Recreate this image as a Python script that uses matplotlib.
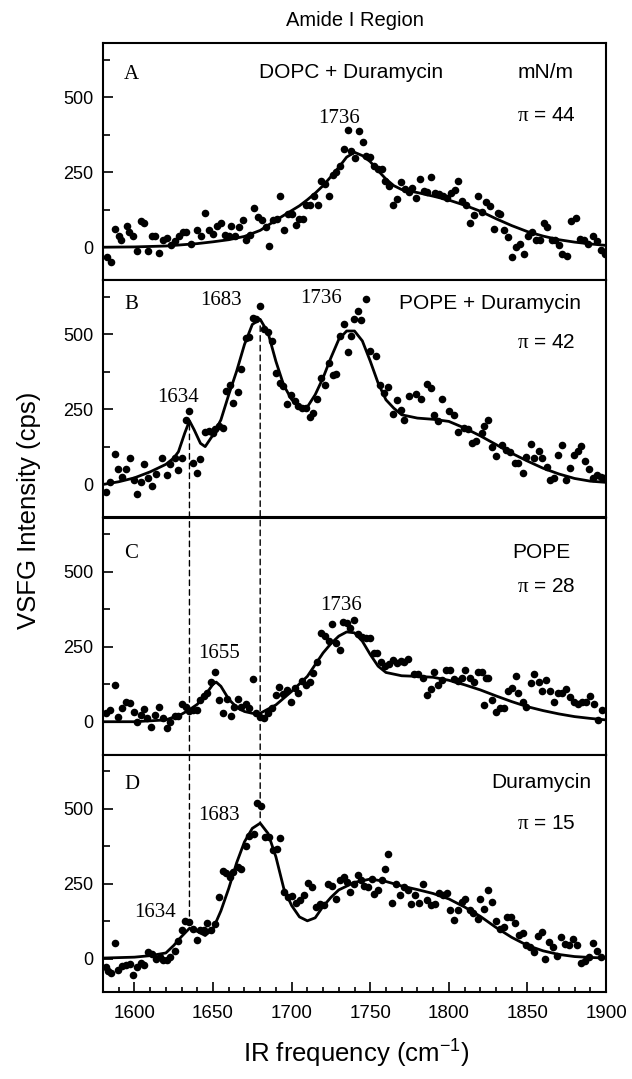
import matplotlib
matplotlib.use("Agg")
import matplotlib.pyplot as plt
from matplotlib.patches import ConnectionPatch
from matplotlib.ticker import MultipleLocator

plt.rcParams["font.family"] = ["Liberation Sans", "DejaVu Sans"]
plt.rcParams["mathtext.fontset"] = "custom"
plt.rcParams["mathtext.rm"] = "Liberation Serif"
plt.rcParams["mathtext.default"] = "regular"

# ---- panel A: DOPC + Duramycin, pi = 44 ----
dopc_dura_x = [1582.6, 1585.0, 1587.7, 1590.0, 1591.5, 1595.3, 1596.6, 1599.0, 1601.7, 1604.0,
               1606.0, 1608.9, 1611.4, 1613.0, 1615.8, 1618.3, 1620.4, 1623.4, 1626.0, 1628.6,
               1631.0, 1632.9, 1636.0, 1640.0, 1642.6, 1645.0, 1647.7, 1650.0, 1652.7, 1654.8,
               1657.4, 1660.0, 1661.7, 1663.8, 1666.3, 1668.9, 1671.2, 1673.7, 1675.8, 1678.3,
               1680.9, 1683.5, 1685.5, 1688.0, 1691.0, 1692.6, 1694.9, 1697.5, 1700.0, 1702.6,
               1705.0, 1707.0, 1709.0, 1711.5, 1714.0, 1716.6, 1718.4, 1721.2, 1723.8, 1726.3,
               1728.0, 1730.7, 1733.2, 1735.8, 1737.6, 1740.0, 1742.9, 1745.5, 1747.3, 1749.8,
               1752.4, 1755.0, 1757.5, 1759.5, 1762.0, 1764.8, 1767.2, 1769.8, 1772.3, 1774.9,
               1776.6, 1779.2, 1781.7, 1784.3, 1786.4, 1788.9, 1791.5, 1794.0, 1796.6, 1799.1,
               1801.7, 1804.2, 1806.0, 1808.6, 1811.1, 1813.7, 1816.2, 1818.8, 1821.3, 1823.9,
               1825.9, 1828.5, 1831.0, 1832.8, 1835.4, 1837.9, 1840.5, 1843.0, 1845.6, 1847.7,
               1850.2, 1852.8, 1855.3, 1857.9, 1860.4, 1862.2, 1865.5, 1867.3, 1869.9, 1871.9,
               1875.0, 1877.5, 1880.9, 1883.4, 1886.0, 1888.5, 1891.6, 1894.1, 1896.7, 1899.2]
dopc_dura_y = [-33, -50, 61, 39, 24, 72, 50, 39, -11, 87,
               80, -11, 39, 39, -20, 24, 31, 6, 20, 39,
               50, 50, 11, 58, 36, 114, 56, 44, 70, 81,
               42, 39, 70, 39, 67, 92, 24, 41, 132, 100,
               89, 67, 3, 89, 94, 169, 58, 111, 109, 74,
               94, 94, 142, 142, 172, 139, 220, 211, 172, 242,
               250, 272, 326, 391, 320, 298, 387, 350, 303, 302,
               270, 261, 261, 222, 203, 139, 161, 217, 194, 183,
               198, 163, 228, 186, 183, 233, 180, 178, 172, 164,
               180, 189, 222, 153, 142, 80, 106, 172, 117, 150,
               136, 61, 113, 111, 58, 33, -33, 2, 11, -24,
               39, 52, 24, 24, 80, 67, 24, 24, 9, -22,
               -28, 86, 97, 28, 24, 11, 38, 20, -9, -22]
dopc_dura_fit_x = [1580, 1600, 1620, 1640, 1650, 1660, 1670, 1680, 1690, 1700, 1705, 1710, 1715,
                   1720, 1725, 1730, 1735, 1740, 1745, 1750, 1755, 1760, 1765, 1770, 1780, 1790,
                   1800, 1810, 1820, 1830, 1840, 1850, 1860, 1870, 1880, 1890, 1900]
dopc_dura_fit_y = [0, 1, 4, 12, 18, 25, 36, 56, 90, 122, 138, 158, 180,
                   205, 235, 266, 300, 316, 305, 285, 255, 227, 205, 192, 182, 170,
                   157, 140, 120, 95, 72, 52, 37, 25, 17, 11, 6]

# ---- panel B: POPE + Duramycin, pi = 42 ----
pope_dura_x = [1581.8, 1584.3, 1587.7, 1589.7, 1592.3, 1594.8, 1597.1, 1599.7, 1601.7, 1604.3,
               1606.3, 1608.9, 1611.4, 1614.0, 1617.8, 1620.4, 1622.9, 1625.5, 1628.0, 1630.1,
               1632.9, 1635.0, 1637.0, 1639.5, 1641.8, 1644.6, 1647.2, 1649.7, 1651.5, 1654.1,
               1656.1, 1658.4, 1661.0, 1663.0, 1665.6, 1668.1, 1670.7, 1673.2, 1675.3, 1677.6,
               1680.1, 1682.2, 1684.7, 1687.3, 1689.8, 1692.4, 1694.4, 1697.0, 1699.5, 1702.1,
               1703.9, 1706.4, 1709.0, 1711.5, 1713.6, 1716.1, 1718.7, 1721.2, 1723.8, 1726.3,
               1728.1, 1730.7, 1733.2, 1735.8, 1737.6, 1739.6, 1742.2, 1744.2, 1747.3, 1749.8,
               1753.7, 1756.2, 1758.8, 1761.3, 1764.6, 1767.2, 1769.8, 1771.5, 1774.9, 1779.2,
               1782.5, 1786.4, 1788.9, 1790.7, 1793.3, 1795.8, 1800.4, 1803.5, 1806.0, 1809.9,
               1812.4, 1815.0, 1817.5, 1820.8, 1822.6, 1825.2, 1827.7, 1830.3, 1833.6, 1836.2,
               1838.7, 1841.8, 1844.3, 1846.9, 1849.4, 1852.0, 1854.5, 1857.1, 1859.6, 1862.2,
               1864.3, 1866.8, 1869.4, 1871.9, 1874.5, 1877.0, 1879.6, 1882.1, 1883.9, 1886.5,
               1889.0, 1891.6, 1894.1, 1896.7, 1898.7]
pope_dura_y = [-25, 9, 100, 51, 26, 51, 89, 15, -33, 9,
               67, 22, -4, 35, 87, 33, 67, 89, 48, 87,
               215, 243, 70, 37, 85, 174, 179, 171, 184, 196,
               188, 310, 330, 271, 308, 386, 489, 491, 554, 550,
               595, 517, 509, 478, 372, 338, 327, 268, 297, 277,
               260, 254, 254, 223, 238, 286, 353, 330, 405, 364,
               368, 494, 533, 442, 494, 550, 578, 547, 617, 446,
               427, 330, 305, 324, 234, 282, 249, 215, 294, 301,
               286, 335, 321, 230, 212, 285, 243, 232, 176, 188,
               185, 137, 145, 171, 196, 215, 124, 96, 132, 115,
               109, 70, 70, 37, 93, 134, 87, 112, 89, 59,
               15, 22, 98, 132, 15, 56, 98, 112, 129, 78,
               51, 22, 31, 26, 20]
pope_dura_fit_x = [1580, 1590, 1600, 1610, 1620, 1625, 1628, 1632, 1635, 1638, 1642, 1645, 1650,
                   1655, 1660, 1665, 1670, 1675, 1680, 1685, 1690, 1695, 1700, 1705, 1710, 1715,
                   1720, 1725, 1730, 1735, 1740, 1745, 1750, 1755, 1760, 1765, 1770, 1780, 1790,
                   1800, 1810, 1820, 1830, 1840, 1850, 1860, 1870, 1880, 1890, 1900]
pope_dura_fit_y = [0, 9, 22, 42, 67, 88, 109, 171, 212, 182, 137, 126, 165,
                   215, 299, 377, 466, 533, 550, 505, 410, 330, 283, 256, 258, 299,
                   355, 422, 483, 511, 511, 478, 411, 338, 282, 254, 232, 221, 217,
                   210, 188, 162, 133, 104, 78, 54, 35, 20, 11, 7]

# ---- panel C: POPE, pi = 28 ----
pope_x = [1581.8, 1584.3, 1587.7, 1589.7, 1592.3, 1594.8, 1597.1, 1599.7, 1601.7, 1604.3,
          1606.3, 1608.1, 1610.6, 1613.2, 1615.8, 1618.3, 1620.4, 1622.9, 1625.5, 1628.0,
          1630.1, 1632.9, 1635.0, 1637.0, 1639.5, 1641.8, 1644.4, 1646.4, 1649.0, 1651.5,
          1654.1, 1656.6, 1659.2, 1661.2, 1663.5, 1665.6, 1668.1, 1670.7, 1673.2, 1675.3,
          1677.6, 1679.6, 1682.2, 1684.7, 1687.3, 1689.8, 1691.9, 1694.4, 1697.0, 1699.5,
          1702.1, 1703.9, 1706.4, 1709.0, 1711.5, 1713.6, 1716.1, 1718.4, 1721.0, 1723.5,
          1725.8, 1728.1, 1730.7, 1732.5, 1735.0, 1737.1, 1739.6, 1742.2, 1744.7, 1747.3,
          1749.8, 1752.4, 1754.4, 1757.0, 1759.5, 1762.1, 1764.6, 1767.2, 1769.8, 1771.5,
          1774.1, 1777.9, 1780.5, 1783.5, 1786.1, 1788.7, 1790.7, 1793.3, 1795.8, 1798.4,
          1801.0, 1803.5, 1806.0, 1808.6, 1810.6, 1813.7, 1816.2, 1818.8, 1820.8, 1822.6,
          1823.4, 1825.2, 1827.7, 1829.8, 1832.3, 1835.4, 1837.9, 1840.5, 1842.5, 1844.3,
          1846.9, 1849.4, 1852.0, 1854.5, 1857.1, 1859.6, 1861.7, 1864.3, 1866.8, 1869.4,
          1871.9, 1874.5, 1877.0, 1879.6, 1882.1, 1884.7, 1887.2, 1889.8, 1892.4, 1894.9,
          1897.5]
pope_y = [28, 39, 123, 17, 45, 67, 62, 34, 0, 22,
          41, 11, -19, 22, 50, 11, -22, 0, 19, 19,
          59, 48, 37, 39, 39, 73, 84, 95, 131, 164,
          73, 30, 75, 19, 50, 75, 50, 59, 45, 142,
          28, 17, 11, 28, 45, 89, 117, 93, 104, 67,
          112, 97, 134, 123, 131, 162, 198, 296, 287, 268,
          324, 261, 240, 332, 330, 313, 339, 291, 283, 280,
          280, 229, 229, 198, 185, 192, 207, 196, 201, 198,
          209, 160, 160, 145, 89, 109, 164, 123, 138, 173,
          173, 142, 134, 145, 171, 145, 131, 164, 164, 56,
          145, 145, 73, 34, 45, 45, 101, 112, 151, 95,
          67, 50, 129, 160, 131, 101, 140, 101, 67, 95,
          95, 109, 82, 67, 59, 67, 67, 86, 59, 6,
          39]
pope_fit_x = [1580, 1600, 1620, 1630, 1635, 1640, 1645, 1650, 1652, 1655, 1660, 1665, 1670,
              1675, 1680, 1690, 1700, 1710, 1720, 1725, 1730, 1735, 1740, 1745, 1750, 1755,
              1760, 1770, 1780, 1790, 1800, 1810, 1820, 1830, 1840, 1850, 1860, 1870, 1880,
              1890, 1900]
pope_fit_y = [0, 0, 6, 25, 40, 58, 88, 125, 132, 118, 75, 48, 34,
              28, 28, 56, 101, 151, 229, 260, 285, 299, 296, 268, 224, 185,
              164, 153, 151, 148, 138, 123, 106, 86, 67, 50, 37, 26, 17,
              11, 6]

# ---- panel D: Duramycin, pi = 15 ----
dura_x = [1581.8, 1583.3, 1585.1, 1587.7, 1589.7, 1592.3, 1594.8, 1597.1, 1599.2, 1601.7,
          1604.3, 1606.3, 1608.9, 1611.4, 1614.0, 1616.5, 1618.3, 1620.4, 1622.9, 1625.5,
          1628.0, 1630.1, 1632.4, 1635.0, 1637.0, 1639.5, 1641.8, 1644.4, 1646.4, 1649.0,
          1651.5, 1654.1, 1656.6, 1658.4, 1661.0, 1663.0, 1665.6, 1668.1, 1670.7, 1673.2,
          1675.8, 1677.8, 1680.4, 1682.9, 1685.5, 1688.0, 1690.6, 1692.4, 1694.9, 1697.5,
          1700.0, 1702.6, 1705.1, 1707.7, 1710.2, 1712.8, 1715.3, 1717.9, 1720.5, 1723.0,
          1725.6, 1728.1, 1730.7, 1733.2, 1735.0, 1737.1, 1739.6, 1742.2, 1744.2, 1746.0,
          1748.6, 1751.1, 1752.4, 1755.0, 1757.5, 1759.5, 1761.3, 1763.9, 1766.3, 1769.0,
          1771.5, 1774.1, 1775.9, 1778.5, 1781.0, 1783.5, 1786.1, 1788.7, 1791.2, 1793.8,
          1796.3, 1798.9, 1801.0, 1803.5, 1806.0, 1808.1, 1810.6, 1813.2, 1815.7, 1818.3,
          1820.0, 1822.6, 1825.2, 1827.7, 1829.8, 1832.3, 1834.9, 1837.2, 1839.7, 1842.3,
          1844.8, 1846.9, 1849.0, 1851.5, 1854.1, 1856.6, 1859.2, 1861.0, 1863.5, 1866.1,
          1868.6, 1871.2, 1873.7, 1876.3, 1878.8, 1881.4, 1883.9, 1886.5, 1889.0, 1891.6,
          1894.1, 1896.7]
dura_y = [-26, -39, -48, 52, -37, -22, -19, -17, -52, -26,
          -15, -19, 22, 17, 0, 6, -3, -3, 6, 26,
          59, 95, 128, 123, 100, 64, 95, 97, 119, 95,
          117, 206, 294, 287, 273, 290, 307, 301, 376, 410,
          416, 521, 510, 407, 407, 363, 365, 402, 223, 206,
          209, 186, 195, 212, 253, 238, 173, 184, 179, 251,
          242, 201, 262, 273, 257, 223, 251, 279, 262, 242,
          240, 265, 215, 231, 262, 301, 349, 186, 249, 212,
          240, 229, 184, 212, 186, 251, 198, 179, 184, 218,
          212, 220, 162, 131, 162, 190, 201, 162, 153, 134,
          201, 167, 229, 190, 128, 100, 106, 140, 140, 119,
          81, 86, 45, 39, 22, 78, 89, 0, 56, 39,
          11, 73, 50, 45, 67, 48, -15, -6, 6, 52,
          25, 8]
dura_fit_x = [1580, 1600, 1610, 1620, 1625, 1630, 1635, 1640, 1645, 1650, 1655, 1660, 1665,
              1670, 1675, 1680, 1685, 1690, 1695, 1700, 1705, 1710, 1715, 1720, 1725, 1730,
              1740, 1750, 1760, 1770, 1780, 1790, 1800, 1810, 1820, 1830, 1840, 1850, 1860,
              1870, 1880, 1890, 1900]
dura_fit_y = [3, 6, 11, 20, 45, 75, 102, 92, 78, 100, 160, 235, 320,
              390, 435, 452, 418, 340, 235, 178, 140, 127, 137, 175, 205, 230,
              255, 266, 258, 243, 231, 218, 200, 173, 142, 105, 72, 45, 27,
              15, 8, 5, 3]

panel_letters = ["A", "B", "C", "D"]
x_ticks = [1600, 1650, 1700, 1750, 1800, 1850, 1900]
y_ticks = [0, 250, 500]

serif = ["Liberation Serif", "DejaVu Serif"]

fig = plt.figure(figsize=(6.32, 10.79), dpi=100)
W, H = 632, 1079
left_px, right_px, top_px, bottom_px = 103, 606, 43, 992
panel_px = (bottom_px - top_px) / 4

series = [
    (dopc_dura_x, dopc_dura_y, dopc_dura_fit_x, dopc_dura_fit_y),
    (pope_dura_x, pope_dura_y, pope_dura_fit_x, pope_dura_fit_y),
    (pope_x, pope_y, pope_fit_x, pope_fit_y),
    (dura_x, dura_y, dura_fit_x, dura_fit_y),
]
letter_y = [575, 600, 559, 580]

axes = []
for i, (px, py, fx, fy) in enumerate(series):
    y0 = 1 - (top_px + (i + 1) * panel_px) / H
    ax = fig.add_axes([left_px / W, y0, (right_px - left_px) / W, panel_px / H])
    ax.scatter(px, py, s=30, color="black", linewidths=0, zorder=3)
    ax.plot(fx, fy, color="black", lw=2.0, zorder=2)
    ax.set_xlim(1580, 1900)
    ax.set_ylim(-110, 680)
    ax.set_yticks(y_ticks)
    ax.yaxis.set_minor_locator(MultipleLocator(125))
    ax.tick_params(axis="y", which="both", direction="in", right=False,
                   labelsize=13, pad=7, width=1.2)
    ax.tick_params(axis="y", which="major", length=7)
    ax.tick_params(axis="y", which="minor", length=4.8)
    for sp in ax.spines.values():
        sp.set_linewidth(1.5)
    ax.text(1593.5, letter_y[i], panel_letters[i], family=serif, fontsize=15,
            ha="left", va="center")
    if i < 3:
        ax.tick_params(axis="x", which="both", bottom=False, labelbottom=False)
    else:
        ax.set_xticks(x_ticks)
        ax.xaxis.set_minor_locator(MultipleLocator(10))
        ax.tick_params(axis="x", which="both", direction="in", top=False,
                       labelsize=13.5, pad=9.5, width=1.2)
        ax.tick_params(axis="x", which="major", length=7)
        ax.tick_params(axis="x", which="minor", length=3.3)
    axes.append(ax)

ax_a, ax_b, ax_c, ax_d = axes

# peak labels (serif)
def peak(ax, x, y, s):
    ax.text(x, y, s, family=serif, fontsize=15, ha="center", va="center")

peak(ax_a, 1730, 429, "1736")
peak(ax_b, 1627.8, 291, "1634")
peak(ax_b, 1655.3, 614, "1683")
peak(ax_b, 1718.4, 619, "1736")
peak(ax_c, 1654, 227, "1655")
peak(ax_c, 1731.5, 386, "1736")
peak(ax_d, 1654, 477, "1683")
peak(ax_d, 1613.2, 156, "1634")

# sample names and surface pressures
ax_a.text(1738, 582, "DOPC + Duramycin", fontsize=15, ha="center", va="center")
ax_a.text(1861.5, 583, "mN/m", fontsize=15, ha="center", va="center")
ax_b.text(1826.5, 603, "POPE + Duramycin", fontsize=15, ha="center", va="center")
ax_c.text(1858.6, 565, "POPE", fontsize=15, ha="center", va="center")
ax_d.text(1858.6, 586, "Duramycin", fontsize=15, ha="center", va="center")
for ax, (val, yy) in zip(axes, [(44, 439), (42, 474), (28, 451), (15, 452)]):
    ax.text(1862, yy, r"$\mathrm{\pi}$ = %d" % val, fontsize=15, ha="center", va="center")

# dashed guides from panel B down into panel D
for x, y_top, y_bot in [(1635, 200, 138), (1680, 528, 455)]:
    con = ConnectionPatch(xyA=(x, y_top), coordsA=ax_b.transData,
                          xyB=(x, y_bot), coordsB=ax_d.transData,
                          color="black", lw=1.0, linestyle=(0, (4, 3)), zorder=5)
    fig.add_artist(con)

fig.text(354.5 / W, 1 - 21 / H, "Amide I Region", fontsize=14.5, ha="center", va="center")
fig.text(29 / W, 1 - 510 / H, "VSFG Intensity (cps)", fontsize=18.5, rotation=90,
         ha="center", va="center")
fig.text(356 / W, 1 - 1054 / H, "IR frequency (cm$^{-1}$)", fontsize=18.5,
         ha="center", va="center")

fig.savefig("out.png", dpi=100)
